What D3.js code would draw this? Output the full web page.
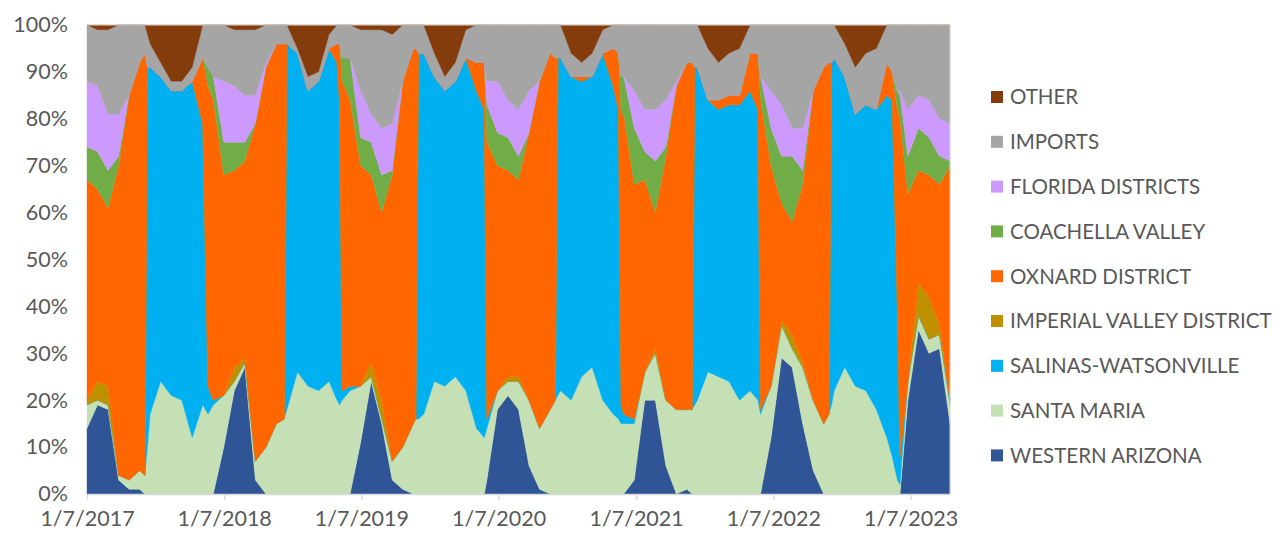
<!DOCTYPE html>
<html><head><meta charset="utf-8">
<script src="https://cdn.jsdelivr.net/npm/d3@7"></script>
<style>body{margin:0;background:#fff;} text{font-family:Lato,"Open Sans",sans-serif;}</style>
</head><body><svg id="c" width="1274" height="538"></svg>
<script>
const dates = [
"2017-01-07","2017-02-04","2017-03-04","2017-04-01","2017-04-29","2017-05-27","2017-06-10","2017-06-17","2017-06-24","2017-07-22",
"2017-08-19","2017-09-16","2017-10-14","2017-11-11","2017-11-25","2017-12-09","2018-01-06","2018-02-03","2018-03-03","2018-03-31",
"2018-04-28","2018-05-26","2018-06-16","2018-06-23","2018-07-21","2018-08-18","2018-09-15","2018-10-13","2018-11-03","2018-11-10",
"2018-11-17","2018-12-08","2019-01-05","2019-02-02","2019-03-02","2019-03-30","2019-04-27","2019-05-25","2019-06-01","2019-06-08",
"2019-06-22","2019-07-20","2019-08-17","2019-09-14","2019-10-12","2019-11-09","2019-11-30","2019-12-07","2020-01-04","2020-02-01",
"2020-02-29","2020-03-28","2020-04-25","2020-05-23","2020-06-06","2020-06-13","2020-06-20","2020-07-18","2020-08-15","2020-09-12",
"2020-10-10","2020-11-07","2020-11-21","2020-11-28","2020-12-05","2021-01-02","2021-01-30","2021-02-27","2021-03-27","2021-04-24",
"2021-05-22","2021-06-05","2021-06-12","2021-06-19","2021-07-17","2021-08-14","2021-09-11","2021-10-09","2021-11-06","2021-11-27",
"2021-12-04","2022-01-01","2022-01-29","2022-02-26","2022-03-26","2022-04-23","2022-05-21","2022-06-04","2022-06-11","2022-06-18",
"2022-07-16","2022-08-13","2022-09-10","2022-10-08","2022-11-05","2022-11-19","2022-12-03","2022-12-10","2022-12-31","2023-01-28",
"2023-02-25","2023-03-25","2023-04-22"];

const westernArizona = [14,19,18,3,1,1,0,0,0,0, 0,0,0,0,0,0,10,22,27,3, 0,0,0,0,0,0,0,0,0,0, 0,0,11,24,15,3,1,0,0,0, 0,0,0,0,0,0,0,3,18,21,
  18,6,1,0,0,0,0,0,0,0, 0,0,0,0,0,3,20,20,6,0, 1,0,0,0,0,0,0,0,0,0, 0,12,29,27,15,5,0,0,0,0, 0,0,0,0,0,0,0,0,20,35, 30,31,15];
const santaMaria = [5,1,1,1,2,4,4,10,17,24, 21,20,12,19,17,19,11,2,1,4, 10,15,16,18,26,23,22,24,20,19, 20,22,12,1,1,4,9,15,16,16, 17,24,23,25,22,14,12,11,4,3,
  6,14,13,18,20,21,22,20,25,27, 20,17,16,15,15,12,6,10,14,18, 17,18,19,20,26,25,24,20,22,20, 17,11,7,4,12,15,15,17,19,22, 27,23,22,18,12,8,3,2,4,3, 3,3,4];
const salinas = [0,0,0,0,0,0,0,81,74,65, 65,66,76,60,6,1,0,0,0,0, 0,0,0,78,68,63,66,71,72,65, 2,1,0,0,0,0,0,0,0,78, 77,65,63,63,71,72,70,2,0,0,
  0,0,0,0,0,72,71,69,63,62, 74,70,66,4,2,1,0,0,0,0, 0,0,72,71,58,57,59,63,64,62, 1,0,0,0,0,0,0,0,73,71, 62,58,61,64,73,76,37,6,0,0, 0,0,1];
const imperial = [1,4,4,0,0,0,0,0,0,0, 0,0,0,0,0,0,0,3,1,0, 0,0,0,0,0,0,0,0,0,0, 0,0,0,3,4,0,0,0,0,0, 0,0,0,0,0,0,0,0,0,1,
  1,0,0,0,0,0,0,0,0,0, 0,0,0,0,0,0,0,1,0,0, 0,0,0,0,0,0,0,0,0,0, 0,0,1,3,1,0,0,0,0,0, 0,0,0,0,0,0,0,0,0,7, 9,2,0];
const oxnard = [47,41,38,66,82,87,90,0,0,0, 0,0,0,14,64,64,47,42,42,72, 81,81,80,0,0,0,0,0,4,12, 66,61,47,40,40,61,78,80,79,0, 0,0,0,0,0,6,10,59,48,44,
  42,57,74,76,73,0,0,0,1,0, 0,8,12,62,64,50,41,29,52,69, 74,74,0,0,0,2,2,2,8,12, 66,47,25,24,38,66,76,75,0,0, 0,0,0,0,7,6,42,72,40,24, 26,30,50];
const coachella = [7,8,8,2,0,0,0,0,0,0, 0,0,0,0,4,5,7,6,4,0, 0,0,0,0,0,0,0,0,0,0, 5,9,6,7,8,1,0,0,0,0, 0,0,0,0,0,0,0,8,7,7,
  5,0,0,0,0,0,0,0,0,0, 0,0,0,8,8,12,6,11,2,0, 0,0,0,0,0,0,0,0,0,0, 5,8,10,14,3,0,0,0,0,0, 0,0,0,0,0,0,4,5,8,9, 8,6,1];
const florida = [14,14,12,9,0,0,0,0,0,0, 0,0,0,0,0,0,13,12,10,6, 1,0,0,0,0,0,0,0,0,0, 0,0,10,6,10,10,0,0,0,0, 0,0,0,0,0,0,0,5,11,8,
  10,9,0,0,0,0,0,0,0,0, 0,0,0,0,0,8,9,11,10,1, 0,0,0,0,0,0,0,0,0,0, 0,8,11,6,9,0,0,0,0,0, 0,0,0,0,0,0,0,1,10,7, 8,8,8];
const imports = [12,12,18,19,15,8,6,7,5,3, 2,2,3,7,9,11,12,12,14,14, 8,4,4,4,1,3,2,3,4,4, 7,7,13,18,21,19,12,5,5,6, 6,5,3,4,6,8,8,12,12,16,
  18,14,12,6,7,7,7,5,3,5, 5,5,6,11,11,14,18,18,16,12, 8,8,9,9,11,8,9,10,6,6, 11,14,17,22,22,14,9,8,8,7, 7,10,11,13,8,10,14,14,18,15, 16,20,21];
const other = [0,1,1,0,0,0,0,2,4,8, 12,12,9,0,0,0,0,1,1,1, 0,0,0,0,5,11,10,2,0,0, 0,0,1,1,1,2,0,0,0,0, 0,6,11,8,1,0,0,0,0,0,
  0,0,0,0,0,0,0,6,8,6, 1,0,0,0,0,0,0,0,0,0, 0,0,0,0,5,8,6,5,0,0, 0,0,0,0,0,0,0,0,0,0, 4,9,6,5,0,0,0,0,0,0, 0,0,0];

const seriesKeys   = ["wa","sm","sw","iv","ox","cv","fl","im","ot"];
const seriesNames  = ["WESTERN ARIZONA","SANTA MARIA","SALINAS-WATSONVILLE","IMPERIAL VALLEY DISTRICT","OXNARD DISTRICT","COACHELLA VALLEY","FLORIDA DISTRICTS","IMPORTS","OTHER"];
const seriesColors = ["#2F5597","#C5E0B4","#00B0F0","#BF9000","#FF6600","#70AD47","#CC99FF","#A5A5A5","#843C0C"];
const seriesValues = [westernArizona,santaMaria,salinas,imperial,oxnard,coachella,florida,imports,other];
const xTickDates  = ["2017-01-07","2018-01-07","2019-01-07","2020-01-07","2021-01-07","2022-01-07","2023-01-07"];
const xTickLabels = ["1/7/2017","1/7/2018","1/7/2019","1/7/2020","1/7/2021","1/7/2022","1/7/2023"];
const yTickValues = [0,0.1,0.2,0.3,0.4,0.5,0.6,0.7,0.8,0.9,1];

const parse = d3.timeParse("%Y-%m-%d");
const rows = dates.map((d,i)=>{ const r={date:parse(d)}; seriesKeys.forEach((k,j)=>r[k]=seriesValues[j][i]); return r; });

const L=87, R=950, T=25, B=494;
const svg = d3.select("#c");
const x = d3.scaleTime().domain([rows[0].date, rows[rows.length-1].date]).range([L,R]);
const y = d3.scaleLinear().domain([0,1]).range([B,T]);

const layers = d3.stack().keys(seriesKeys).offset(d3.stackOffsetExpand)(rows);
const area = d3.area().x(d=>x(d.data.date)).y0(d=>y(d[0])).y1(d=>y(d[1]));

svg.append("g").selectAll("path").data(layers).join("path")
  .attr("d",area).attr("fill",(d,i)=>seriesColors[i]).attr("stroke",(d,i)=>seriesColors[i]).attr("stroke-width",0.4);

svg.append("line").attr("x1",L).attr("x2",R).attr("y1",T).attr("y2",T).attr("stroke","#D9D9D9");
svg.append("line").attr("x1",R).attr("x2",R).attr("y1",T).attr("y2",B).attr("stroke","#D9D9D9");

const xa = svg.append("g").attr("transform",`translate(0,${B})`)
  .call(d3.axisBottom(x).tickValues(xTickDates.map(parse)).tickFormat((d,i)=>xTickLabels[i]).tickSize(6).tickPadding(11).tickSizeOuter(0));
xa.select(".domain").attr("stroke","#D9D9D9").attr("stroke-width",1.5);
xa.selectAll(".tick line").attr("stroke","#D9D9D9").attr("stroke-width",1.5);
xa.selectAll("text").attr("fill","#595959").style("font-size","21.5px").style("font-family","Lato");

const ya = svg.append("g").attr("transform",`translate(${L},0)`)
  .call(d3.axisLeft(y).tickValues(yTickValues).tickFormat(d3.format(".0%")).tickSize(0).tickPadding(19));
ya.select(".domain").remove();
ya.selectAll("text").attr("fill","#595959").style("font-size","21.5px").style("font-family","Lato");

const legendOrder = [8,7,6,5,4,3,2,1,0];
const lg = svg.append("g").selectAll("g").data(legendOrder).join("g")
  .attr("transform",(d,i)=>`translate(991,${97+i*44.8})`);
lg.append("rect").attr("x",0).attr("y",-6).attr("width",12).attr("height",12).attr("fill",d=>seriesColors[d]);
lg.append("text").attr("x",19).attr("y",0).attr("dy","0.36em").attr("fill","#595959")
  .style("font-size","20.5px").text(d=>seriesNames[d]);
</script></body></html>
